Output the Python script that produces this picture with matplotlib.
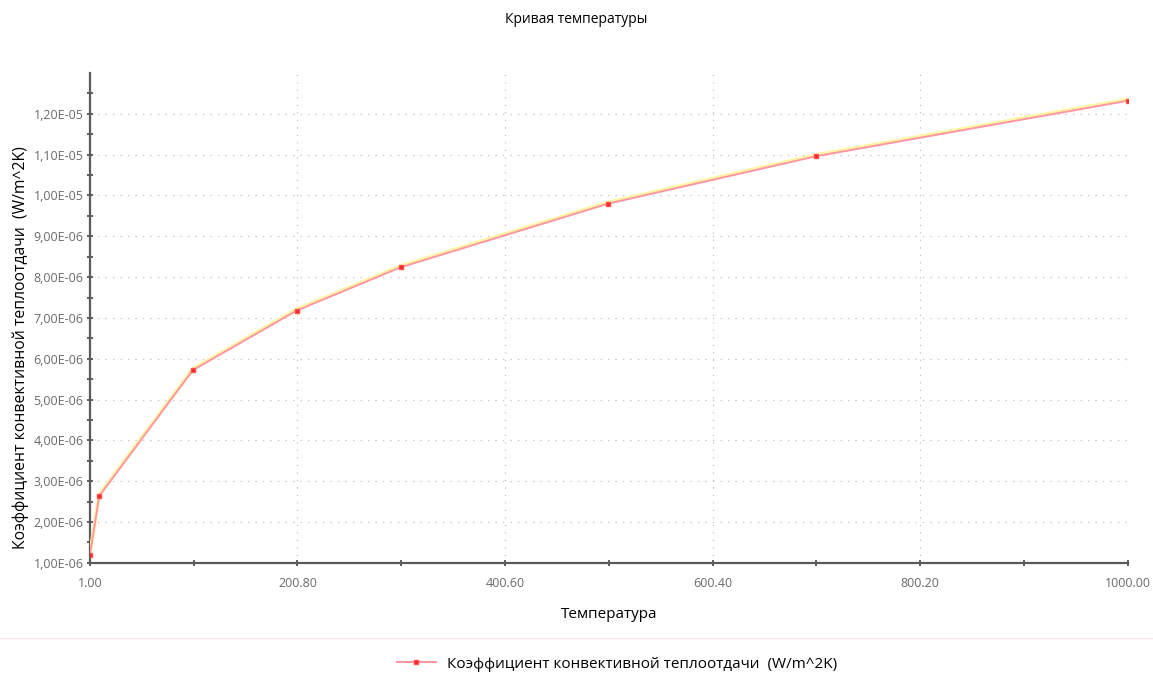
import matplotlib
matplotlib.use("Agg")
import matplotlib.pyplot as plt
from matplotlib.ticker import FixedLocator, FuncFormatter
from matplotlib.lines import Line2D

plt.rcParams['font.family'] = ['Open Sans', 'DejaVu Sans']

title = "Кривая температуры"
x_label = "Температура"
y_label = "Коэффициент конвективной теплоотдачи  (W/m^2K)"
series_name = "Коэффициент конвективной теплоотдачи  (W/m^2K)"

temperature = [1, 10, 100, 200, 300, 500, 700, 1000]
coefficient = [1.2e-6, 2.64e-6, 5.72e-6, 7.18e-6, 8.24e-6, 9.8e-6, 1.096e-5, 1.232e-5]

x_major = [1.0, 200.8, 400.6, 600.4, 800.2, 1000.0]
x_minor = [100.9, 300.7, 500.5, 700.3, 900.1]
y_major = [i * 1e-6 for i in range(1, 13)]
y_minor = [(i + 0.5) * 1e-6 for i in range(1, 13)]

fig = plt.figure(figsize=(11.53, 6.79), dpi=100)
ax = fig.add_axes([0.078, 0.171, 0.900, 0.7215])

ax.plot(temperature, [c + 0.03e-6 for c in coefficient], color='#fff5a0', lw=2.6,
        solid_capstyle='round', zorder=3)
ax.plot(temperature, coefficient, color='#ff95a5', lw=1.4, zorder=4,
        marker='s', markersize=3.5, markerfacecolor='#ff2020', markeredgecolor='#ff5050')

ax.set_xlim(1, 1000)
ax.set_ylim(1e-6, 1.3e-5)

ax.xaxis.set_major_locator(FixedLocator(x_major))
ax.xaxis.set_minor_locator(FixedLocator(x_minor))
ax.yaxis.set_major_locator(FixedLocator(y_major))
ax.yaxis.set_minor_locator(FixedLocator(y_minor))
ax.xaxis.set_major_formatter(FuncFormatter(lambda v, p: f"{v:.2f}"))
ax.yaxis.set_major_formatter(FuncFormatter(lambda v, p: f"{v:.2E}".replace('.', ',')))

for s in ['top', 'right']:
    ax.spines[s].set_visible(False)
for s in ['left', 'bottom']:
    ax.spines[s].set_color('#5a5a5a')
    ax.spines[s].set_linewidth(1.6)

ax.tick_params(axis='both', which='both', direction='inout', color='#444444', width=1.2)
ax.tick_params(axis='both', which='major', length=5, labelsize=9, labelcolor='#6a6a6a')
ax.tick_params(axis='both', which='minor', length=4)
ax.tick_params(axis='x', which='major', pad=8)
ax.tick_params(axis='y', which='major', pad=2)

ax.grid(True, which='major', linestyle=(0, (1, 5)), color='#c0c0c0', lw=0.9)

fig.text(0.5, 0.972, title, ha='center', va='center', fontsize=10)
ax.set_xlabel(x_label, fontsize=11, labelpad=12)
ax.set_ylabel(y_label, fontsize=11.3)
ax.yaxis.set_label_coords(-0.059, 0.44)

fig.add_artist(Line2D([0.0, 1.0], [0.06, 0.06], transform=fig.transFigure,
                      color='#fbe3e8', lw=1.0))

handle = Line2D([], [], color='#ff95a5', lw=1.5, marker='s', markersize=3.5,
                markerfacecolor='#ff2020', markeredgecolor='#ff5050')
fig.legend([handle], [series_name], loc='center', bbox_to_anchor=(0.535, 0.022),
           frameon=False, fontsize=11, handlelength=2.6, handletextpad=0.7)

fig.savefig("out.png", dpi=100)
